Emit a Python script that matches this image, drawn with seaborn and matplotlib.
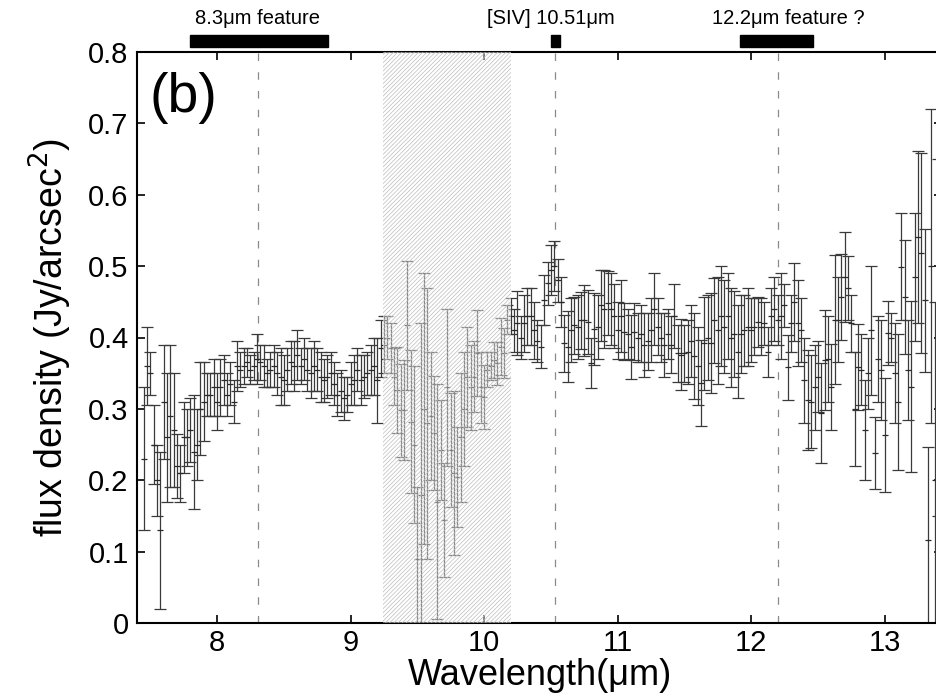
import numpy as np
import pandas as pd
import matplotlib
matplotlib.use("Agg")
import matplotlib.pyplot as plt
import matplotlib.transforms as mtransforms
from matplotlib.patches import Rectangle
import seaborn as sns

# spectrum sampled every 0.025 um starting at 7.45 um
wave_start = 7.45
wave_step = 0.025

flux_a = [0.23, 0.36, 0.35, 0.25, 0.20, 0.13, 0.31, 0.26, 0.29, 0.27,
          0.22, 0.21, 0.26, 0.26, 0.27, 0.24, 0.25, 0.30, 0.31, 0.32]
err_a = [0.10, 0.055, 0.03, 0.055, 0.05, 0.11, 0.08, 0.09, 0.10, 0.08,
         0.045, 0.04, 0.05, 0.04, 0.045, 0.08, 0.05, 0.065, 0.055, 0.03]

flux_b = [0.32, 0.33, 0.31, 0.33, 0.34, 0.32, 0.335, 0.31, 0.36, 0.355,
          0.36, 0.365, 0.355, 0.36, 0.37, 0.365, 0.36, 0.35, 0.355, 0.36]
err_b = [0.03, 0.04, 0.04, 0.04, 0.035, 0.03, 0.03, 0.03, 0.035, 0.025,
         0.025, 0.02, 0.02, 0.02, 0.035, 0.025, 0.03, 0.02, 0.025, 0.03]

flux_c = [0.35, 0.345, 0.34, 0.355, 0.365, 0.36, 0.375, 0.36, 0.37, 0.355, 0.35,
          0.36, 0.355, 0.345, 0.34, 0.345, 0.35, 0.335, 0.32, 0.325]
err_c = [0.03, 0.04, 0.035, 0.03, 0.03, 0.035, 0.035, 0.025, 0.03, 0.03, 0.035,
         0.035, 0.03, 0.035, 0.03, 0.03, 0.03, 0.03, 0.03, 0.03]

flux_d = [0.315, 0.32, 0.335, 0.34, 0.355, 0.34, 0.345, 0.35, 0.355, 0.36, 0.34, 0.385]
err_d = [0.03, 0.025, 0.03, 0.035, 0.03, 0.035, 0.03, 0.03, 0.035, 0.04, 0.06, 0.04]

# silicate region (hatched) and [SIV] line
flux_m = [0.39, 0.40, 0.385, 0.345, 0.326, 0.298, 0.298, 0.417, 0.282, 0.25,
          0.09, 0.18, 0.30, 0.28, 0.29, 0.266, 0.17, 0.242, 0.144, 0.33,
          0.242, 0.21, 0.205, 0.26, 0.30, 0.345, 0.33, 0.345, 0.378, 0.33,
          0.317, 0.355, 0.36, 0.368, 0.364, 0.387, 0.378, 0.425, 0.43, 0.41,
          0.42, 0.40, 0.42, 0.43, 0.43, 0.41, 0.395, 0.387, 0.453, 0.476,
          0.495, 0.50, 0.48, 0.45]
err_m = [0.04, 0.03, 0.035, 0.04, 0.06, 0.065, 0.07, 0.09, 0.10, 0.11,
         0.10, 0.24, 0.19, 0.19, 0.09, 0.08, 0.165, 0.07, 0.08, 0.11,
         0.08, 0.115, 0.07, 0.09, 0.08, 0.07, 0.06, 0.05, 0.06, 0.05,
         0.045, 0.025, 0.02, 0.025, 0.03, 0.04, 0.035, 0.02, 0.025, 0.03,
         0.045, 0.03, 0.04, 0.04, 0.04, 0.04, 0.03, 0.03, 0.035, 0.03,
         0.035, 0.035, 0.03, 0.035]

flux_e = [0.392, 0.387, 0.41, 0.417, 0.415, 0.424, 0.424, 0.422, 0.364, 0.412,
          0.415, 0.445, 0.44, 0.448, 0.44, 0.43, 0.41, 0.43, 0.408, 0.405,
          0.387, 0.408, 0.40, 0.405, 0.39, 0.395, 0.41, 0.44, 0.415, 0.40,
          0.39, 0.405, 0.39, 0.43, 0.378, 0.376, 0.378, 0.38, 0.395, 0.374,
          0.36, 0.336, 0.392, 0.40, 0.392, 0.424, 0.41, 0.43, 0.415, 0.43,
          0.40, 0.405, 0.38, 0.405, 0.41, 0.415, 0.41, 0.415, 0.422, 0.415,
          0.42, 0.38, 0.43, 0.44, 0.424, 0.43, 0.445, 0.358, 0.42, 0.45,
          0.42, 0.41, 0.34, 0.312, 0.31, 0.33]
err_e = [0.04, 0.05, 0.045, 0.04, 0.045, 0.04, 0.05, 0.045, 0.035, 0.05,
         0.045, 0.05, 0.055, 0.045, 0.05, 0.045, 0.04, 0.05, 0.04, 0.035,
         0.045, 0.04, 0.035, 0.04, 0.045, 0.04, 0.045, 0.05, 0.04, 0.035,
         0.045, 0.035, 0.04, 0.045, 0.04, 0.05, 0.04, 0.045, 0.05, 0.06,
         0.055, 0.06, 0.065, 0.06, 0.07, 0.06, 0.075, 0.07, 0.065, 0.06,
         0.07, 0.06, 0.065, 0.055, 0.05, 0.055, 0.045, 0.04, 0.035, 0.04,
         0.03, 0.035, 0.04, 0.045, 0.035, 0.06, 0.03, 0.045, 0.04, 0.055,
         0.06, 0.045, 0.06, 0.07, 0.065, 0.06]

flux_f = [0.345, 0.294, 0.368, 0.37, 0.331, 0.425, 0.425, 0.457, 0.485, 0.469,
          0.42, 0.30, 0.359, 0.355, 0.27, 0.35, 0.41, 0.238, 0.37, 0.355,
          0.263, 0.406, 0.40, 0.35, 0.31, 0.499, 0.457, 0.355, 0.331, 0.485,
          0.541, 0.518, 0.452, 0.116, 0.50, 0.20, 0.40]
err_f = [0.05, 0.07, 0.07, 0.06, 0.06, 0.09, 0.06, 0.06, 0.063, 0.045,
         0.04, 0.08, 0.06, 0.05, 0.07, 0.05, 0.09, 0.05, 0.06, 0.07,
         0.08, 0.045, 0.035, 0.07, 0.095, 0.075, 0.08, 0.07, 0.12, 0.09,
         0.12, 0.14, 0.10, 0.13, 0.22, 0.25, 0.25]

feature_names = ["8.3\u03bcm feature", "[SIV] 10.51\u03bcm", "12.2\u03bcm feature ?"]
feature_lo = [7.80, 10.50, 11.92]
feature_hi = [8.83, 10.57, 12.46]
feature_label_x = [8.30, 10.50, 12.28]
feature_lines = [8.31, 10.53, 12.20]
shaded_range = (9.24, 10.20)

yticks = [0, 0.1, 0.2, 0.3, 0.4, 0.5, 0.6, 0.7, 0.8]
ytick_labels = ["0", "0.1", "0.2", "0.3", "0.4", "0.5", "0.6", "0.7", "0.8"]
xticks = [8, 9, 10, 11, 12, 13]

flux = flux_a + flux_b + flux_c + flux_d + flux_m + flux_e + flux_f
err = err_a + err_b + err_c + err_d + err_m + err_e + err_f
wave = np.round(wave_start + wave_step * np.arange(len(flux)), 3)
df = pd.DataFrame({"wave": wave, "flux": flux, "err": err})

sns.set_theme(style="ticks")
plt.rcParams["font.family"] = ["Liberation Sans", "DejaVu Sans"]
plt.rcParams["hatch.linewidth"] = 0.5
plt.rcParams["text.color"] = "black"
plt.rcParams["axes.labelcolor"] = "black"

fig = plt.figure(figsize=(9.36, 6.99), dpi=100)
ax = fig.add_axes([137 / 936, 76 / 699, 805 / 936, 571 / 699])

ax.errorbar(df["wave"], df["flux"], yerr=df["err"], fmt="_", ms=5, mew=0.9,
            color="#2a2a2a", ecolor="#3a3a3a", elinewidth=0.9, capsize=4,
            capthick=0.9, zorder=2)

# hatched band drawn over the data so the bars look washed out
ax.axvspan(shaded_range[0], shaded_range[1], facecolor=(1, 1, 1, 0.4),
           edgecolor="#bdbdbd", hatch="/" * 8, linewidth=0, zorder=3)

for x in feature_lines:
    ax.axvline(x, color="#8a8a8a", lw=0.9, ls=(0, (6, 9)), zorder=1)

trans = mtransforms.blended_transform_factory(ax.transData, ax.transAxes)
for name, lo, hi, lx in zip(feature_names, feature_lo, feature_hi, feature_label_x):
    ax.add_patch(Rectangle((lo, 1.009), hi - lo, 0.021, transform=trans,
                           color="black", clip_on=False))
    ax.text(lx, 1.058, name, transform=trans, ha="center", va="center",
            fontsize=14.5)

ax.text(0.016, 0.965, "(b)", transform=ax.transAxes, ha="left", va="top",
        fontsize=40)

ax.set_xlim(7.4, 13.43)
ax.set_ylim(0, 0.8)
ax.set_xticks(xticks)
ax.set_yticks(yticks)
ax.set_yticklabels(ytick_labels)
ax.tick_params(direction="in", top=True, right=True, length=6, width=1.2,
               labelsize=21, pad=6, colors="black")
ax.tick_params(axis="x", pad=4)
for sp in ax.spines.values():
    sp.set_linewidth(1.5)
    sp.set_color("black")

ax.set_xlabel("Wavelength(\u03bcm)", fontsize=26, labelpad=1)
ax.set_ylabel("flux density (Jy/arcsec$^2$)", fontsize=27, labelpad=10)

fig.savefig("out.png", dpi=100)
plt.close(fig)
